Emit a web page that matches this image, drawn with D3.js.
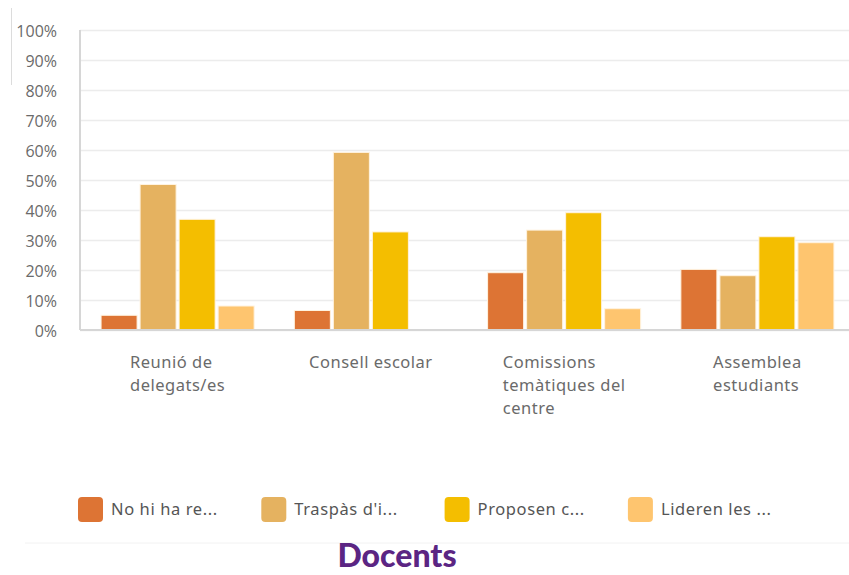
<!DOCTYPE html>
<html>
<head>
<meta charset="utf-8">
<script src="https://cdn.jsdelivr.net/npm/d3@7"></script>
<style>
	body{ margin:0; background:#fff; }
	svg{ display:block; }
</style>
</head>
<body>
<svg id="chart" width="849" height="575"></svg>
<script>
// Categories on the x axis.
let categories = ["Reunió de delegats/es", "Consell escolar", "Comissions temàtiques del centre", "Assemblea estudiants"];

// Series names as shown (truncated) in the legend.
let seriesNames = ["No hi ha re...", "Traspàs d'i...", "Proposen c...", "Lideren les ..."];

// Percentages, one array per series, in category order.
let noHiHa    = [4.9, 6.5, 19.1, 20.2];
let traspas   = [48.5, 59.2, 33.3, 18.1];
let proposen  = [36.9, 32.7, 39.1, 31.1];
let lideren   = [8.0, 0, 7.1, 29.1];

let yTicks = [0, 10, 20, 30, 40, 50, 60, 70, 80, 90, 100];
let colors = ["#dd7434", "#e5b260", "#f4be00", "#fec56f"];
let title = "Docents";

let seriesValues = [noHiHa, traspas, proposen, lideren];


let svg = d3.select("#chart");
let font = "'Noto Sans', sans-serif";
let tickfont = "'Open Sans', sans-serif";
let textcolor = "#6a6a6a";

let x0 = d3.scaleBand()
  .domain(categories)
  .range([80, 855])
  .paddingInner(0.208)
  .paddingOuter(0.109);

let x1 = d3.scaleBand()
  .domain(d3.range(seriesNames.length))
  .range([0, x0.bandwidth()])
  .paddingInner(0.077);

let y = d3.scaleLinear()
  .domain([0, 100])
  .range([330, 30]);


// Gridlines and y labels.
let yaxis = svg.append("g")
  .attr("transform", "translate(80,0)")
  .call(d3.axisLeft(y).tickValues(yTicks).tickSize(-769).tickFormat(d=>d + "%"));
yaxis.select(".domain").remove();
yaxis.selectAll(".tick line")
  .attr("stroke", "#ececec")
  .attr("stroke-width", 1.5);
yaxis.selectAll(".tick text")
  .attr("x", -23)
  .attr("dy", "0.42em")
  .attr("fill", textcolor)
  .style("font-family", tickfont)
  .style("font-size", "16px");

// Left axis line.
svg.append("line")
  .attr("x1", 80).attr("x2", 80)
  .attr("y1", y(100)).attr("y2", y(0))
  .attr("stroke", "#d6d6d6").attr("stroke-width", 2);


// Bars.
let groups = svg.append("g").selectAll("g")
  .data(categories)
  .join("g")
  .attr("transform", d=>`translate(${ x0(d) },0)`);

groups.selectAll("rect")
  .data((d, i)=>seriesValues.map((s, k)=>({k: k, v: s[i]})))
  .join("rect")
  .filter(d=>d.v > 0)
  .attr("x", d=>x1(d.k))
  .attr("width", x1.bandwidth())
  .attr("y", d=>y(d.v))
  .attr("height", d=>y(0) - y(d.v))
  .attr("fill", d=>colors[d.k])
  .attr("stroke", "#fff3e0")
  .attr("stroke-width", 1);

// Bottom axis line.
svg.append("line")
  .attr("x1", 80).attr("x2", 849)
  .attr("y1", y(0)).attr("y2", y(0))
  .attr("stroke", "#d6d6d6").attr("stroke-width", 2);


// Category labels: wrapped, left aligned, block centred on the group.
let maxwidth = 150;
categories.forEach(c=>{
	let g = svg.append("g");
	let words = c.split(" ");
	let lines = [];
	let current = "";
	let probe = g.append("text")
	  .style("font-family", font)
	  .style("font-size", "16.5px")
	  .style("letter-spacing", "0.5px");
	words.forEach(w=>{
		let test = current ? current + " " + w : w;
		probe.text(test);
		if(probe.node().getComputedTextLength() > maxwidth && current){
			lines.push(current);
			current = w;
		} else {
			current = test;
		} // if
	});
	lines.push(current);
	probe.remove();
	
	let texts = g.selectAll("text")
	  .data(lines)
	  .join("text")
	  .attr("y", (d, i)=>368 + i*23)
	  .attr("fill", textcolor)
	  .style("font-family", font)
	  .style("font-size", "16.5px")
	  .style("letter-spacing", "0.5px")
	  .text(d=>d);
	let blockwidth = d3.max(texts.nodes(), n=>n.getComputedTextLength());
	texts.attr("x", x0(c) + x0.bandwidth()/2 - blockwidth/2);
});


// Legend.
let legend = svg.append("g").selectAll("g")
  .data(seriesNames)
  .join("g")
  .attr("transform", (d, i)=>`translate(${ 78 + i*183.3 },497)`);
legend.append("rect")
  .attr("width", 25).attr("height", 25)
  .attr("rx", 4)
  .attr("fill", (d, i)=>colors[i]);
legend.append("text")
  .attr("x", 33).attr("y", 18)
  .attr("fill", "#555")
  .style("font-family", font)
  .style("font-size", "16.5px")
  .style("letter-spacing", "0.6px")
  .text(d=>d);


// Separator and title.
svg.append("line")
  .attr("x1", 25).attr("x2", 849)
  .attr("y1", 543).attr("y2", 543)
  .attr("stroke", "#f2f2f2").attr("stroke-width", 1);

svg.append("text")
  .attr("x", 397).attr("y", 567)
  .attr("text-anchor", "middle")
  .attr("fill", "#5b2583")
  .style("font-family", "Lato, sans-serif")
  .style("font-weight", 900)
  .style("font-size", "32px")
  .text(title);

// Small decorative mark at the top left.
svg.append("line")
  .attr("x1", 11.5).attr("x2", 11.5)
  .attr("y1", 8).attr("y2", 85)
  .attr("stroke", "#dcdcdc").attr("stroke-width", 1);
</script>
</body>
</html>
